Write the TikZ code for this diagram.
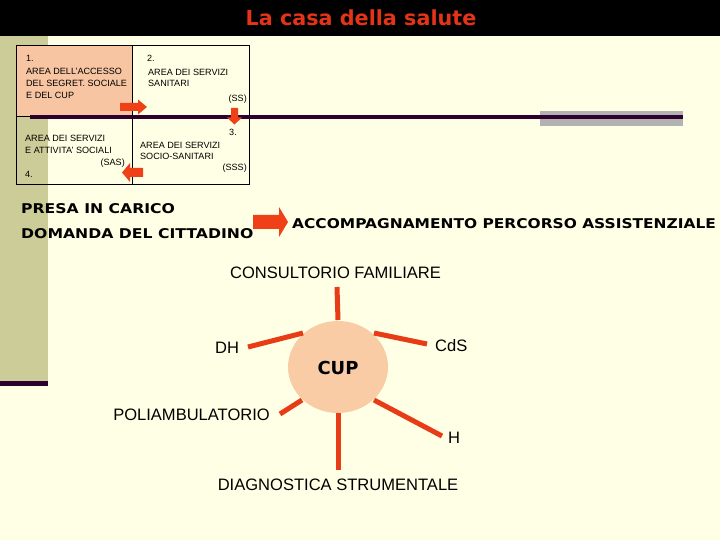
\documentclass[tikz,border=0pt]{standalone}
\usepackage{fontspec}
\usepackage{graphicx}
\usetikzlibrary{shapes.geometric}
\setmainfont{Liberation Sans}
\newfontfamily\dvs{DejaVu Sans}
\definecolor{bgcream}{RGB}{255,255,229}
\definecolor{olivestrip}{RGB}{204,204,153}
\definecolor{dpurple}{RGB}{45,0,45}
\definecolor{arrowred}{RGB}{240,64,24}
\definecolor{spokered}{RGB}{232,60,22}
\definecolor{cellpeach}{RGB}{248,197,162}
\definecolor{cuppeach}{RGB}{250,204,166}
\definecolor{titlered}{RGB}{228,52,24}
\definecolor{graybar}{RGB}{178,178,178}
\newcommand{\wideb}[2][1.165]{\scalebox{#1}[1]{#2}}
\begin{document}
\begin{tikzpicture}[x=1bp,y=-1bp,
  small/.style={font=\fontsize{9.1}{10}\selectfont, inner sep=0, text=black},
  boldlbl/.style={font=\dvs\bfseries\fontsize{13.5}{15}\selectfont, inner sep=0},
  lbl/.style={font=\fontsize{16.6}{18}\selectfont, inner sep=0},
  blockarrow/.style={fill=arrowred, draw=none},
  spoke/.style={draw=spokered, line width=5bp}
]
\useasboundingbox (0,0) rectangle (720,540);
\fill[bgcream] (0,0) rectangle (720,540);
\fill[black] (0,0) rectangle (720,36);
\fill[olivestrip] (0,36) rectangle (48,381);
\fill[dpurple] (0,381) rectangle (48,386);
\fill[graybar] (540,111) rectangle (683,126);

% title
\node[font=\dvs\bfseries\fontsize{20.8}{24}\selectfont, text=titlered, anchor=base, inner sep=0] (title) at (361,26) {La casa della salute};

% table
\fill[cellpeach] (16,45) rectangle (132,116);
\draw[black, line width=0.8bp] (16,45) rectangle (249,184);
\draw[black, line width=0.8bp] (16,116) -- (249,116);
\draw[black, line width=0.8bp] (132,45) -- (132,184);
\draw[dpurple, line width=3.5bp] (30,117) -- (683,117);

% cell 1
\node[small, anchor=base west] (c1a) at (26,61.8) {1.};
\node[small, anchor=base west] (c1b) at (26,74.1) {AREA DELL’ACCESSO};
\node[small, anchor=base west] (c1c) at (26,86.4) {DEL SEGRET. SOCIALE};
\node[small, anchor=base west] (c1d) at (26,98.7) {E DEL CUP};
% cell 2
\node[small, anchor=base west] (c2a) at (147,61.8) {2.};
\node[small, anchor=base west] (c2b) at (148,75.6) {AREA DEI SERVIZI};
\node[small, anchor=base west] (c2c) at (148,86.8) {SANITARI};
\node[small, anchor=base east] (c2d) at (247,101.5) {(SS)};
% cell 4
\node[small, anchor=base west] (c4a) at (25,141.5) {AREA DEI SERVIZI};
\node[small, anchor=base west] (c4b) at (25,153.5) {E ATTIVITA’ SOCIALI};
\node[small, anchor=base east] (c4c) at (125,165.5) {(SAS)};
\node[small, anchor=base west] (c4d) at (25,177.5) {4.};
% cell 3
\node[small, anchor=base east] (c3a) at (237,135.5) {3.};
\node[small, anchor=base west] (c3b) at (140,148.5) {AREA DEI SERVIZI};
\node[small, anchor=base west] (c3c) at (140,159.5) {SOCIO-SANITARI};
\node[small, anchor=base east] (c3d) at (247,170.5) {(SSS)};

% block arrows
\fill[blockarrow] (120,103) -- (138,103) -- (138,99.5) -- (147,107) -- (138,114.5) -- (138,111) -- (120,111) -- cycle;
\fill[blockarrow] (231,108) -- (238,108) -- (238,117.5) -- (242,117.5) -- (234.5,124.5) -- (227,117.5) -- (231,117.5) -- cycle;
\fill[blockarrow] (143,168) -- (130,168) -- (130,163) -- (122,172.5) -- (130,182) -- (130,177) -- (143,177) -- cycle;

% middle texts
\node[boldlbl, anchor=base west] (presa) at (21,214) {\wideb{PRESA IN CARICO}};
\node[boldlbl, anchor=base west] (domanda) at (21,239) {\wideb{DOMANDA DEL CITTADINO}};
\node[boldlbl, anchor=base west] (accomp) at (292,229) {\wideb[1.148]{ACCOMPAGNAMENTO PERCORSO ASSISTENZIALE}};
\fill[blockarrow] (253,215) -- (279,215) -- (279,207) -- (288,222) -- (279,237) -- (279,229) -- (253,229) -- cycle;

% CUP hub
\node[ellipse, fill=cuppeach, minimum width=100bp, minimum height=92bp, inner sep=0] (cup) at (338,367) {};
\node[font=\dvs\bfseries\fontsize{18}{20}\selectfont, anchor=base, inner sep=0] (cuptxt) at (338,374) {CUP};

\coordinate (eTop) at (337,287);
\coordinate (eDH) at (248,347);
\coordinate (eCdS) at (427,344);
\coordinate (ePoli) at (280,414);
\coordinate (eH) at (442,436);
\coordinate (eDiag) at (338,470);
\coordinate (iTop) at (338,320);
\coordinate (iDH) at (303,333);
\coordinate (iCdS) at (374,333);
\coordinate (iPoli) at (302,400);
\coordinate (iH) at (374,400);
\coordinate (iDiag) at (338,413);

\draw[spoke] (iTop) -- (eTop);
\draw[spoke] (iDH) -- (eDH);
\draw[spoke] (iCdS) -- (eCdS);
\draw[spoke] (iPoli) -- (ePoli);
\draw[spoke] (iH) -- (eH);
\draw[spoke] (iDiag) -- (eDiag);

\node[lbl, anchor=base] (cons) at (335.5,279) {CONSULTORIO FAMILIARE};
\node[lbl, anchor=base west] (dh) at (215,353) {DH};
\node[lbl, anchor=base west] (cds) at (435,351) {CdS};
\node[lbl, anchor=base east] (poli) at (270,420.7) {POLIAMBULATORIO};
\node[lbl, anchor=base west] (h) at (448,443.3) {H};
\node[lbl, anchor=base] (diag) at (338,490.7) {DIAGNOSTICA STRUMENTALE};
\end{tikzpicture}
\end{document}
